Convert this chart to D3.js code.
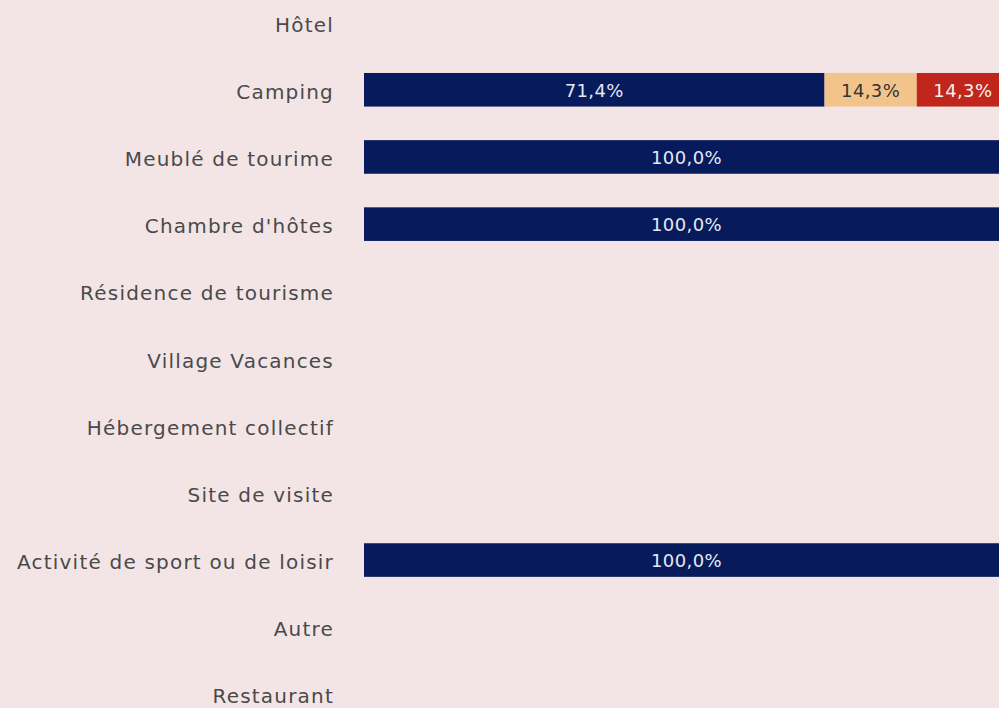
<!DOCTYPE html>
<html>
<head>
<meta charset="utf-8">
<script src="https://cdn.jsdelivr.net/npm/d3@7"></script>
<style>
  html, body { margin: 0; padding: 0; background: #f3e5e6; overflow: hidden; }
  svg { display: block; }
</style>
</head>
<body>
<svg id="chart"></svg>
<script>
// Barres empilées 100% par type de structure
const categories = [
  'Hôtel', 'Camping', 'Meublé de tourime', "Chambre d'hôtes", 'Résidence de tourisme',
  'Village Vacances', 'Hébergement collectif', 'Site de visite',
  'Activité de sport ou de loisir', 'Autre', 'Restaurant'
];
const serieA = [0, 71.4, 100, 100, 0, 0, 0, 0, 100, 0, 0]; // bleu
const serieB = [0, 14.3, 0, 0, 0, 0, 0, 0, 0, 0, 0];      // beige
const serieC = [0, 14.3, 0, 0, 0, 0, 0, 0, 0, 0, 0];      // rouge

const W = 999, H = 708;
const svg = d3.select('#chart').attr('width', W).attr('height', H);

const fontFam = '"DejaVu Sans", sans-serif';
const colors = ['#061a5c', '#f2c48c', '#c0261b'];
const txtColors = ['#e6e8f2', '#333333', '#f6f0f0'];

const rows = categories.map((c, i) => ({ cat: c, a: serieA[i], b: serieB[i], c: serieC[i] }));
const keys = ['a', 'b', 'c'];
const stacked = d3.stack().keys(keys)(rows);

const x = d3.scaleLinear().domain([0, 100]).range([364, 1009]);
const y = d3.scaleBand().domain(categories).range([-11, 728]).paddingInner(0.5).paddingOuter(0.25);

// libellés des catégories
svg.append('g').selectAll('text')
  .data(categories)
  .join('text')
  .attr('x', 334)
  .attr('y', d => y(d) + y.bandwidth() / 2)
  .attr('dy', '0.45em')
  .attr('text-anchor', 'end')
  .attr('fill', '#4a4a4a')
  .attr('font-family', fontFam)
  .attr('font-size', 20)
  .attr('letter-spacing', 1.2)
  .text(d => d);

const fmt = v => d3.format('.1f')(v).replace('.', ',') + '%';

stacked.forEach((layer, k) => {
  const g = svg.append('g');
  const segs = layer.map(s => ({ x0: s[0], x1: s[1], cat: s.data.cat })).filter(s => s.x1 - s.x0 > 0);
  g.selectAll('rect')
    .data(segs)
    .join('rect')
    .attr('x', d => x(d.x0))
    .attr('y', d => y(d.cat))
    .attr('width', d => x(d.x1) - x(d.x0))
    .attr('height', y.bandwidth())
    .attr('fill', colors[k]);
  g.selectAll('text')
    .data(segs)
    .join('text')
    .attr('x', d => (x(d.x0) + x(d.x1)) / 2)
    .attr('y', d => y(d.cat) + y.bandwidth() / 2)
    .attr('dy', '0.38em')
    .attr('text-anchor', 'middle')
    .attr('fill', txtColors[k])
    .attr('font-family', fontFam)
    .attr('font-size', 18)
    .attr('letter-spacing', 0.4)
    .text(d => fmt(d.x1 - d.x0));
});
</script>
</body>
</html>
